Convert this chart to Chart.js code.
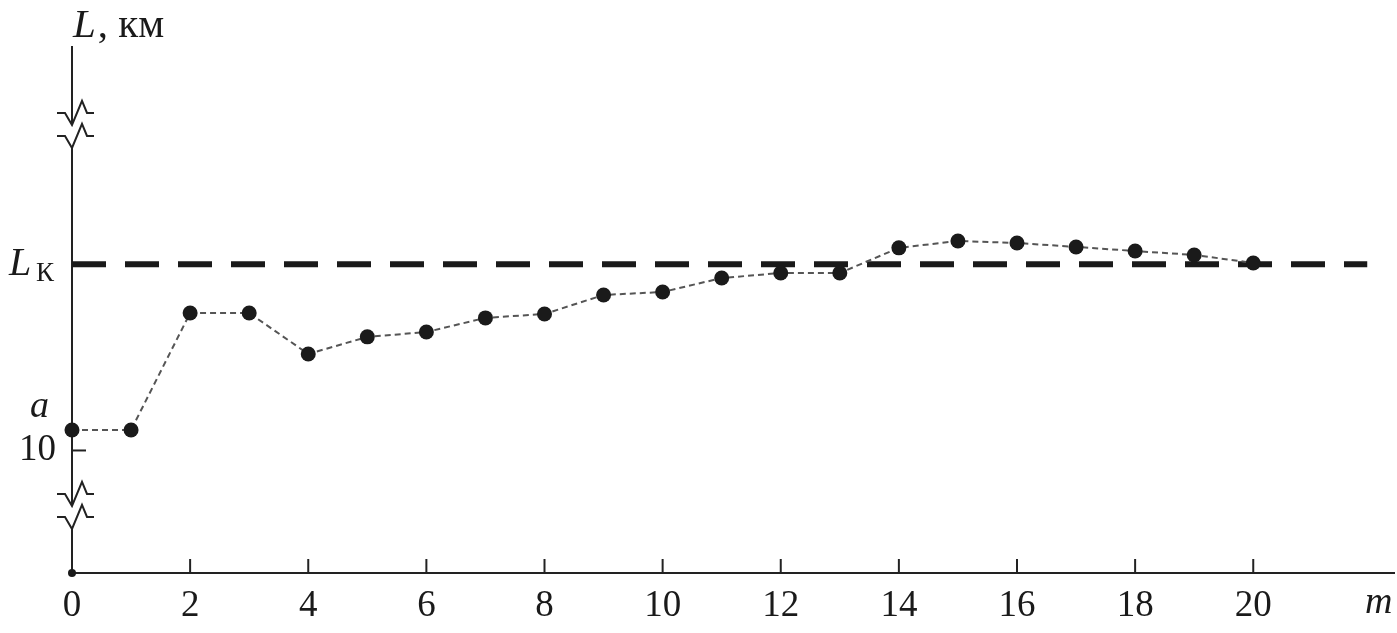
<!DOCTYPE html>
<html><head><meta charset="utf-8">
<script src="https://cdn.jsdelivr.net/npm/chart.js@4/dist/chart.umd.min.js"></script>
<style>html,body{margin:0;padding:0;background:#fff}#wrap{width:1397px;height:633px}canvas{display:block}</style>
</head><body><div id="wrap"><canvas id="c" width="1397" height="633"></canvas></div>
<script>
// ---- data ----
const mValues = [0,1,2,3,4,5,6,7,8,9,10,11,12,13,14,15,16,17,18,19,20];
const lValues = [11.10,11.10,17.38,17.38,15.18,16.10,16.36,17.12,17.33,18.35,18.51,19.26,19.53,19.53,20.88,21.25,21.14,20.93,20.71,20.50,20.07];
const lK = 20;               // critical level L_K
const lKLineX = [0, 21.93];  // extent of the L_K dashed line
const xTickValues = [0,2,4,6,8,10,12,14,16,18,20];
const xTickLabels = ['0','2','4','6','8','10','12','14','16','18','20'];
const yTickValues = [10];
const yTickLabels = ['10'];
const axisBreaks = [27.48, 7.02]; // y values where the axis is broken
const xMin = 0, xMax = 22.4, yMin = 3.42, yMax = 31.72;

const INK = '#1a1a1a';
const SERIF = '"Liberation Serif","DejaVu Serif",serif';

const decor = {
  id: 'decor',
  beforeDatasetsDraw(chart) {
    const ctx = chart.ctx, xs = chart.scales.x, ys = chart.scales.y;
    const x0 = xs.getPixelForValue(xMin);
    const yb = ys.getPixelForValue(yMin), yt = ys.getPixelForValue(yMax);
    ctx.save();
    ctx.strokeStyle = '#222'; ctx.lineWidth = 2; ctx.lineCap = 'butt'; ctx.lineJoin = 'miter';
    const seg = (a, b, c, d) => { ctx.beginPath(); ctx.moveTo(a, b); ctx.lineTo(c, d); ctx.stroke(); };
    // x axis
    seg(x0, yb, xs.getPixelForValue(xMax), yb);
    xTickValues.forEach(v => { const px = xs.getPixelForValue(v); seg(px, yb, px, yb - 14); });
    // y tick
    yTickValues.forEach(v => { const py = ys.getPixelForValue(v); seg(x0, py, x0 + 14, py); });
    // y axis with breaks
    const cs = axisBreaks.map(v => ys.getPixelForValue(v)).sort((a, b) => a - b);
    const gap = 23;
    let start = yt;
    cs.forEach(c => {
      seg(x0, start, x0, c);
      [0, gap].forEach(off => {
        const cc = c + off;
        ctx.beginPath();
        ctx.moveTo(x0 - 15, cc - 12); ctx.lineTo(x0 - 7, cc - 12); ctx.lineTo(x0, cc);
        ctx.lineTo(x0 + 10, cc - 24); ctx.lineTo(x0 + 15, cc - 12); ctx.lineTo(x0 + 22, cc - 12);
        ctx.stroke();
      });
      start = c + gap;
    });
    seg(x0, start, x0, yb);
    // origin dot
    ctx.fillStyle = INK;
    ctx.beginPath(); ctx.arc(x0, yb, 4, 0, Math.PI * 2); ctx.fill();
    ctx.restore();
  },
  afterDraw(chart) {
    const ctx = chart.ctx, xs = chart.scales.x, ys = chart.scales.y;
    const x0 = xs.getPixelForValue(xMin);
    ctx.save();
    ctx.fillStyle = INK; ctx.textBaseline = 'alphabetic'; ctx.textAlign = 'left';
    // axis title L, км
    ctx.font = 'italic 41px ' + SERIF;
    ctx.fillText('L', x0 + 1, 37);
    const wL = ctx.measureText('L').width;
    ctx.font = '41px ' + SERIF;
    ctx.fillText(', км', x0 + 1 + wL + 2, 37);
    // L_K label
    const pK = ys.getPixelForValue(lK);
    ctx.font = 'italic 40px ' + SERIF;
    ctx.fillText('L', 9, pK + 11);
    ctx.font = '27px ' + SERIF;
    ctx.fillText('К', 36, pK + 17);
    // a
    ctx.font = 'italic 38px ' + SERIF;
    ctx.fillText('a', 30, 417);
    // m
    ctx.fillText('m', 1365, 613);
    ctx.restore();
  }
};

new Chart(document.getElementById('c'), {
  type: 'line',
  data: {
    datasets: [
      {
        data: mValues.map((m, i) => ({ x: m, y: lValues[i] })),
        borderColor: '#555', borderWidth: 2, borderDash: [6, 4],
        pointRadius: 7.5, pointBackgroundColor: INK, pointBorderWidth: 0,
        tension: 0, clip: false
      },
      {
        data: lKLineX.map(x => ({ x, y: lK })),
        borderColor: INK, borderWidth: 6, borderDash: [34, 19], borderCapStyle: 'butt',
        pointRadius: 0, tension: 0, clip: false
      }
    ]
  },
  options: {
    responsive: false, animation: false, devicePixelRatio: 1,
    layout: { autoPadding: false, padding: { top: 46, right: 2, left: 0, bottom: 0 } },
    plugins: { legend: { display: false }, tooltip: { enabled: false } },
    scales: {
      x: {
        type: 'linear', min: xMin, max: xMax,
        grid: { display: false, drawTicks: false }, border: { display: false },
        afterBuildTicks: s => { s.ticks = xTickValues.map(v => ({ value: v })); },
        afterFit: s => { s.height = 60; s.paddingLeft = 0; s.paddingRight = 0; },
        ticks: {
          padding: 11, color: INK, maxRotation: 0, autoSkip: false,
          font: { family: SERIF, size: 37 },
          callback: (v) => { const i = xTickValues.indexOf(v); return i >= 0 ? xTickLabels[i] : ''; }
        }
      },
      y: {
        type: 'linear', min: yMin, max: yMax,
        grid: { display: false, drawTicks: false }, border: { display: false },
        afterBuildTicks: s => { s.ticks = yTickValues.map(v => ({ value: v })); },
        afterFit: s => { s.width = 72; s.paddingTop = 0; s.paddingBottom = 0; },
        ticks: {
          padding: 16, color: INK,
          font: { family: SERIF, size: 37 },
          callback: (v) => { const i = yTickValues.indexOf(v); return i >= 0 ? yTickLabels[i] : ''; }
        }
      }
    }
  },
  plugins: [decor]
});
</script>
</body></html>
